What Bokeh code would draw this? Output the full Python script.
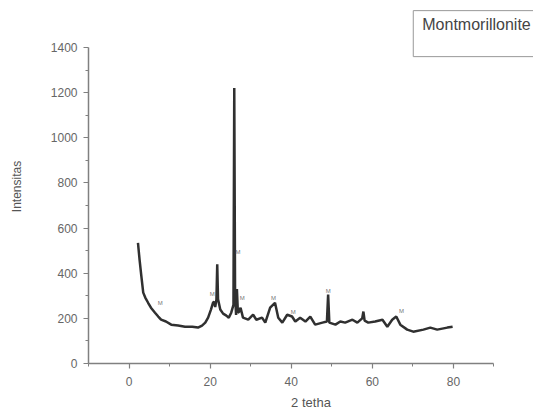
from bokeh.plotting import figure
from bokeh.models import FixedTicker, Range1d, Label, ColumnDataSource
from bokeh.core.properties import value
from bokeh.embed import file_html
from bokeh.resources import INLINE

# ---- data ----
two_theta = [2.2, 2.6, 3.0, 3.5, 4.0, 4.7, 5.4, 6.4, 7.2, 7.9, 9.1, 10.4, 12.1, 13.8,
             15.6, 17.0, 18.0, 18.8, 19.5, 20.2, 20.7, 21.0, 21.25, 21.55, 21.75, 21.95,
             22.5, 23.2, 24.0, 24.6, 25.2, 25.75, 25.95, 26.15, 26.4, 26.6, 26.85, 27.2,
             27.5, 28.1, 29.4, 30.6, 31.4, 32.8, 33.6, 34.8, 36.0, 36.8, 37.8, 39.0,
             40.2, 41.0, 42.2, 43.5, 44.7, 45.9, 47.7, 48.8, 49.1, 49.4, 50.9, 52.1,
             53.3, 55.1, 56.3, 57.5, 57.8, 58.1, 59.0, 60.7, 62.5, 63.7, 64.9, 65.9,
             66.9, 68.6, 70.1, 72.6, 74.3, 76.0, 78.5, 79.8]
intensity = [534, 459, 393, 314, 292, 269, 247, 225, 208, 194, 186, 172, 168, 163,
             163, 159, 168, 181, 203, 239, 269, 274, 250, 283, 440, 285,
             239, 221, 212, 203, 225, 260, 1220, 300, 215, 330, 225, 230,
             247, 203, 194, 216, 194, 203, 181, 247, 269, 203, 181, 216,
             208, 186, 203, 186, 208, 172, 181, 186, 305, 181, 172, 186,
             181, 194, 181, 200, 230, 190, 181, 186, 194, 163, 194, 208,
             172, 150, 141, 150, 159, 150, 159, 163]

peak_label_x = [7.7, 20.5, 26.9, 27.9, 35.6, 40.5, 49.1, 67.2]
peak_label_y = [269, 309, 495, 292, 292, 230, 322, 234]
peak_label_text = ["M", "M", "M", "M", "M", "M", "M", "M"]

x_ticks = [0, 20, 40, 60, 80]
x_minor = [-10, 10, 30, 50, 70, 90]
y_ticks = [0, 200, 400, 600, 800, 1000, 1200, 1400]
y_minor = [100, 300, 500, 700, 900, 1100, 1300]

series_name = "Montmorillonite"

FONT = "Liberation Sans"

p = figure(width=533, height=412, output_backend="svg", toolbar_location=None,
           x_range=Range1d(-10, 99.75), y_range=Range1d(0, 1568),
           min_border_left=88, min_border_right=0, min_border_top=9, min_border_bottom=48)
p.outline_line_color = None
p.xgrid.visible = False
p.ygrid.visible = False
p.background_fill_color = "white"
p.border_fill_color = "white"

p.line(two_theta, intensity, line_color="#1a1a1a", line_width=2.5, line_alpha=0.9)

src = ColumnDataSource(dict(x=peak_label_x, y=peak_label_y, t=peak_label_text))
p.text(x="x", y="y", text="t", source=src, text_font=value(FONT), text_font_size="6px",
       text_color="#777777", text_align="center", text_baseline="middle")

for ax, ticks, minor, bounds in ((p.xaxis[0], x_ticks, x_minor, (-10, 90)),
                                 (p.yaxis[0], y_ticks, y_minor, (0, 1400))):
    ax.ticker = FixedTicker(ticks=ticks, minor_ticks=minor)
    ax.bounds = bounds
    ax.axis_line_color = "#808080"
    ax.axis_line_width = 1.5
    ax.major_tick_line_color = "#808080"
    ax.minor_tick_line_color = "#808080"
    ax.major_tick_line_width = 1.2
    ax.major_tick_out = 5
    ax.major_tick_in = 0
    ax.minor_tick_out = 3
    ax.minor_tick_in = 0
    ax.major_label_text_font = FONT
    ax.major_label_text_font_size = "12px"
    ax.major_label_text_color = "#666666"
    ax.axis_label_text_font = FONT
    ax.axis_label_text_font_style = "normal"
    ax.axis_label_text_color = "#555555"

p.xaxis.axis_label = "2 tetha"
p.xaxis.axis_label_text_font_size = "13px"
p.xaxis.major_label_standoff = 8
p.xaxis.axis_label_standoff = 6
p.yaxis.axis_label = "Intensitas"
p.yaxis.axis_label_text_font_size = "12px"
p.yaxis.major_label_standoff = 6
p.yaxis.axis_label_standoff = 24

legend_box = Label(x=70.1, y=1563, x_units="data", y_units="data", text=series_name,
                   text_font=FONT, text_font_size="16px", text_color="#444444",
                   text_baseline="top", text_align="left",
                   border_line_color="#999999", border_line_width=1,
                   background_fill_color="white",
                   padding=dict(left=9, right=30, top=5, bottom=24))
p.add_layout(legend_box)

open("out.html", "w").write(file_html(p, INLINE))
